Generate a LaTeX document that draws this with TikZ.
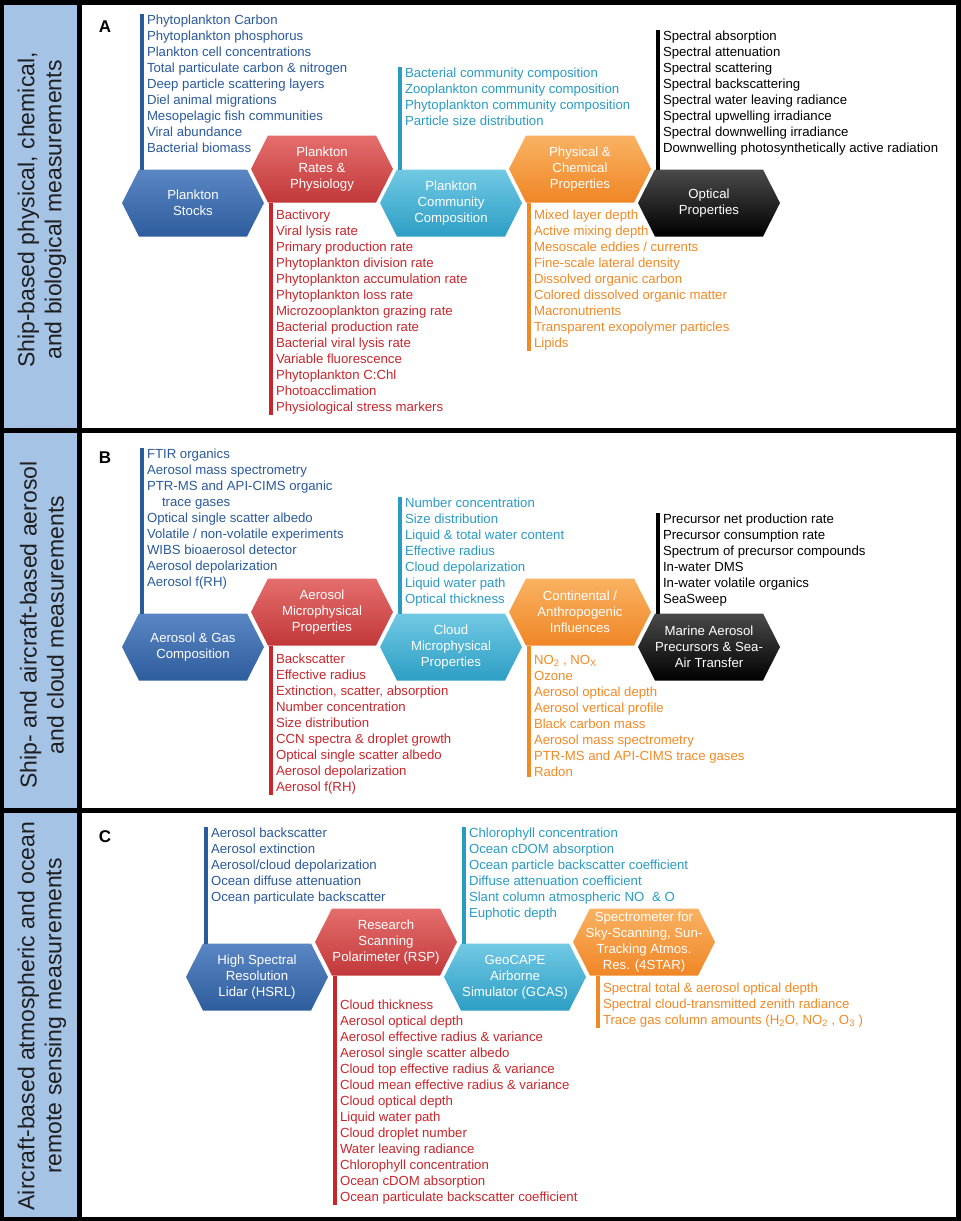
\documentclass[tikz,border=0pt]{standalone}
\usepackage{fontspec}
\setmainfont{Liberation Sans}
\pgfdeclarelayer{bg}
\pgfsetlayers{bg,main}
\definecolor{blueT}{HTML}{2B5A9B}
\definecolor{redT}{HTML}{C9262C}
\definecolor{cyanT}{HTML}{2A9BC5}
\definecolor{orangeT}{HTML}{F18A25}
\definecolor{labelBlue}{HTML}{A5C3E5}
\definecolor{blueTop}{HTML}{5A86C4}
\definecolor{blueBot}{HTML}{2E5D9D}
\definecolor{redTop}{HTML}{E46E6C}
\definecolor{redBot}{HTML}{C2383A}
\definecolor{cyanTop}{HTML}{72C9E4}
\definecolor{cyanBot}{HTML}{2C9EC4}
\definecolor{orangeTop}{HTML}{F9B262}
\definecolor{orangeBot}{HTML}{F08626}
\definecolor{blackTop}{HTML}{4A4A4A}
\definecolor{blackBot}{HTML}{000000}
\newcommand\lfont{\fontsize{13.2}{16}\selectfont}
\newcommand\hexshade[3]{%
  \begin{pgfonlayer}{bg}
  \shade[top color=#2,bottom color=#3] (#1.west) -- ([xshift=17pt]#1.north west) -- ([xshift=-17pt]#1.north east) -- (#1.east) -- ([xshift=-17pt]#1.south east) -- ([xshift=17pt]#1.south west) -- cycle;
  \end{pgfonlayer}}
\newcommand\topbar[3]{%
  \coordinate (tmpb) at ([xshift=-5.5pt]#2.north west);
  \draw[bar=#1] ([yshift=1pt]tmpb) -- (tmpb |- #3.north);}
\newcommand\botbar[3]{%
  \coordinate (tmpb) at ([xshift=-5.5pt]#3.south west);
  \draw[bar=#1] (tmpb |- #2.south) -- ([yshift=-1pt]tmpb);}
\tikzset{
  hexbox/.style={minimum width=142pt, minimum height=67pt, inner sep=0pt, outer sep=0pt, align=center, text=white, font=\lfont},
  listtxt/.style={anchor=north west, inner sep=0pt, outer sep=0pt, align=left, font=\lfont, text=#1},
  bar/.style={draw=#1, line width=4pt},
  panlabel/.style={rotate=90, align=center, inner sep=0pt, font=\fontsize{23}{27}\selectfont, text=black!88},
  letter/.style={inner sep=0pt, font=\fontsize{17}{20}\selectfont\bfseries}
}
\begin{document}
\begin{tikzpicture}[x=1pt,y=-1pt]
\useasboundingbox (0,0) rectangle (961,1221);
% frame
\begin{pgfonlayer}{bg}
\fill[black] (0,0) rectangle (961,1221);
\fill[white] (82,4.5) rectangle (956,428);
\fill[white] (82,433) rectangle (956,808);
\fill[white] (82,813) rectangle (956,1216.5);
\fill[labelBlue] (4,4.5) rectangle (77,428);
\fill[labelBlue] (4,433) rectangle (77,808);
\fill[labelBlue] (4,813) rectangle (77,1216.5);
\end{pgfonlayer}
% side labels
\node[panlabel] (sideA) at (42,210) {Ship-based physical, chemical,\\and biological measurements};
\node[panlabel] (sideB) at (42,625) {Ship- and aircraft-based aerosol\\and cloud measurements};
\node[panlabel] (sideC) at (42,1016) {Aircraft-based atmospheric and ocean\\remote sensing measurements};
\node[letter] (letA) at (105,27) {A};
\node[letter] (letB) at (105,458) {B};
\node[letter] (letC) at (105,837) {C};

% ===== Panel A =====
\node[hexbox] (hA1) at (193,203) {Plankton\\Stocks};
\node[hexbox] (hA2) at (322,169) {Plankton\\Rates \&\\Physiology};
\node[hexbox] (hA3) at (451,203) {Plankton\\Community\\Composition};
\node[hexbox] (hA4) at (580,169) {Physical \&\\Chemical\\Properties};
\node[hexbox] (hA5) at (709,203) {Optical\\Properties};
\hexshade{hA1}{blueTop}{blueBot}
\hexshade{hA2}{redTop}{redBot}
\hexshade{hA3}{cyanTop}{cyanBot}
\hexshade{hA4}{orangeTop}{orangeBot}
\hexshade{hA5}{blackTop}{blackBot}

\node[listtxt=blueT] (lA1) at (147,15) {Phytoplankton Carbon\\Phytoplankton phosphorus\\Plankton cell concentrations\\Total particulate carbon \& nitrogen\\Deep particle scattering layers\\Diel animal migrations\\Mesopelagic fish communities\\Viral abundance\\Bacterial biomass};
\node[listtxt=redT] (lA2) at (276,210) {Bactivory\\Viral lysis rate\\Primary production rate\\Phytoplankton division rate\\Phytoplankton accumulation rate\\Phytoplankton loss rate\\Microzooplankton grazing rate\\Bacterial production rate\\Bacterial viral lysis rate\\Variable fluorescence\\Phytoplankton C:Chl\\Photoacclimation\\Physiological stress markers};
\node[listtxt=cyanT] (lA3) at (405,68) {Bacterial community composition\\Zooplankton community composition\\Phytoplankton community composition\\Particle size distribution};
\node[listtxt=orangeT] (lA4) at (534,210) {Mixed layer depth\\Active mixing depth\\Mesoscale eddies / currents\\Fine-scale lateral density\\Dissolved organic carbon\\Colored dissolved organic matter\\Macronutrients\\Transparent exopolymer particles\\Lipids};
\node[listtxt=black] (lA5) at (663,31) {Spectral absorption\\Spectral attenuation\\Spectral scattering\\Spectral backscattering\\Spectral water leaving radiance\\Spectral upwelling irradiance\\Spectral downwelling irradiance\\Downwelling photosynthetically active radiation};
\topbar{blueT}{lA1}{hA1}
\botbar{redT}{hA2}{lA2}
\topbar{cyanT}{lA3}{hA3}
\botbar{orangeT}{hA4}{lA4}
\topbar{black}{lA5}{hA5}

% ===== Panel B =====
\node[hexbox] (hB1) at (193,647) {Aerosol \& Gas\\Composition};
\node[hexbox] (hB2) at (322,612) {Aerosol\\Microphysical\\Properties};
\node[hexbox] (hB3) at (451,647) {Cloud\\Microphysical\\Properties};
\node[hexbox] (hB4) at (580,612) {Continental /\\Anthropogenic\\Influences};
\node[hexbox] (hB5) at (709,647) {Marine Aerosol\\Precursors \& Sea-\\Air Transfer};
\hexshade{hB1}{blueTop}{blueBot}
\hexshade{hB2}{redTop}{redBot}
\hexshade{hB3}{cyanTop}{cyanBot}
\hexshade{hB4}{orangeTop}{orangeBot}
\hexshade{hB5}{blackTop}{blackBot}

\node[listtxt=blueT] (lB1) at (147,449) {FTIR organics\\Aerosol mass spectrometry\\PTR-MS and API-CIMS organic\\\hspace*{15pt}trace gases\\Optical single scatter albedo\\Volatile / non-volatile experiments\\WIBS bioaerosol detector\\Aerosol depolarization\\Aerosol f(RH)};
\node[listtxt=redT] (lB2) at (276,654) {Backscatter\\Effective radius\\Extinction, scatter, absorption\\Number concentration\\Size distribution\\CCN spectra \& droplet growth\\Optical single scatter albedo\\Aerosol depolarization\\Aerosol f(RH)};
\node[listtxt=cyanT] (lB3) at (405,498) {Number concentration\\Size distribution\\Liquid \& total water content\\Effective radius\\Cloud depolarization\\Liquid water path\\Optical thickness};
\node[listtxt=orangeT] (lB4) at (534,655) {NO\textsubscript{2} , NO\textsubscript{X}\\Ozone\\Aerosol optical depth\\Aerosol vertical profile\\Black carbon mass\\Aerosol mass spectrometry\\PTR-MS and API-CIMS trace gases\\Radon};
\node[listtxt=black] (lB5) at (663,514) {Precursor net production rate\\Precursor consumption rate\\Spectrum of precursor compounds\\In-water DMS\\In-water volatile organics\\SeaSweep};
\topbar{blueT}{lB1}{hB1}
\botbar{redT}{hB2}{lB2}
\topbar{cyanT}{lB3}{hB3}
\botbar{orangeT}{hB4}{lB4}
\topbar{black}{lB5}{hB5}

% ===== Panel C =====
\node[hexbox] (hC1) at (257,977) {High Spectral\\Resolution\\Lidar (HSRL)};
\node[hexbox] (hC2) at (386,942) {Research\\Scanning\\Polarimeter (RSP)};
\node[hexbox] (hC3) at (515,977) {GeoCAPE\\Airborne\\Simulator (GCAS)};
\node[hexbox] (hC4) at (644,942) {Spectrometer for\\Sky-Scanning, Sun-\\Tracking Atmos.\\Res. (4STAR)};
\hexshade{hC1}{blueTop}{blueBot}
\hexshade{hC2}{redTop}{redBot}
\hexshade{hC3}{cyanTop}{cyanBot}
\hexshade{hC4}{orangeTop}{orangeBot}

\node[listtxt=blueT] (lC1) at (211,828) {Aerosol backscatter\\Aerosol extinction\\Aerosol/cloud depolarization\\Ocean diffuse attenuation\\Ocean particulate backscatter};
\node[listtxt=redT] (lC2) at (340,1000) {Cloud thickness\\Aerosol optical depth\\Aerosol effective radius \& variance\\Aerosol single scatter albedo\\Cloud top effective radius \& variance\\Cloud mean effective radius \& variance\\Cloud optical depth\\Liquid water path\\Cloud droplet number\\Water leaving radiance\\Chlorophyll concentration\\Ocean cDOM absorption\\Ocean particulate backscatter coefficient};
\node[listtxt=cyanT] (lC3) at (469,828) {Chlorophyll concentration\\Ocean cDOM absorption\\Ocean particle backscatter coefficient\\Diffuse attenuation coefficient\\Slant column atmospheric NO\hspace{0.6em}\& O\\Euphotic depth};
\node[listtxt=orangeT] (lC4) at (603,983) {Spectral total \& aerosol optical depth\\Spectral cloud-transmitted zenith radiance\\Trace gas column amounts (H\textsubscript{2}O, NO\textsubscript{2} , O\textsubscript{3} )};
\topbar{blueT}{lC1}{hC1}
\botbar{redT}{hC2}{lC2}
\topbar{cyanT}{lC3}{hC3}
\botbar{orangeT}{hC4}{lC4}
\end{tikzpicture}
\end{document}
